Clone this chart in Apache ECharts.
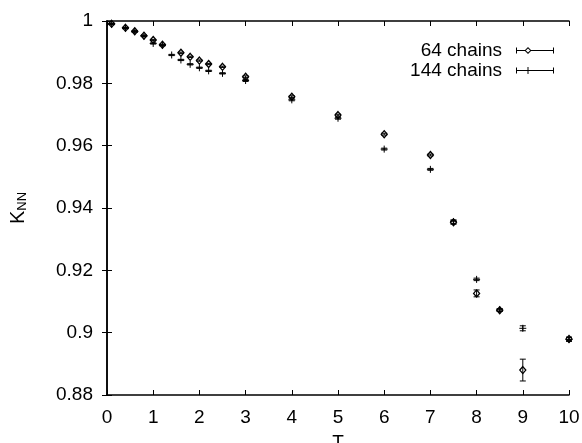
<!DOCTYPE html>
<html>
<head>
<meta charset="utf-8">
<script src="https://cdn.jsdelivr.net/npm/echarts@6/dist/echarts.min.js"></script>
<style>
  html, body { margin: 0; padding: 0; background: #fff; }
  #chart { width: 582px; height: 443px; }
</style>
</head>
<body>
<div id="chart"></div>
<script>
// 64 chains
const t64 = [0.1, 0.4, 0.6, 0.8, 1.0, 1.2, 1.6, 1.8, 2.0, 2.2, 2.5, 3, 4, 5, 6, 7, 7.5, 8, 8.5, 9, 10];
const k64 = [0.9991, 0.9978, 0.9967, 0.9953, 0.9939, 0.9924, 0.9898, 0.9885, 0.9873, 0.9862, 0.9853, 0.9821,
             0.9757, 0.9698, 0.9637, 0.9570, 0.9354, 0.9126, 0.9072, 0.8880, 0.8980];
const e64 = [0.0002, 0.0002, 0.0002, 0.0002, 0.0002, 0.0002, 0.0002, 0.0002, 0.0002, 0.0002, 0.0002, 0.0003,
             0.0003, 0.0003, 0.0003, 0.0003, 0.0006, 0.0011, 0.0004, 0.0035, 0.0006];
// 144 chains
const t144 = [0.1, 0.4, 0.6, 0.8, 1.0, 1.2, 1.4, 1.6, 1.8, 2.0, 2.2, 2.5, 3, 4, 5, 6, 7, 7.5, 8, 8.5, 9, 10];
const k144 = [0.9990, 0.9977, 0.9966, 0.9952, 0.9928, 0.9922, 0.9891, 0.9875, 0.9861, 0.9850, 0.9840, 0.9832,
              0.9809, 0.9747, 0.9688, 0.9589, 0.9524, 0.9356, 0.9171, 0.9073, 0.9014, 0.8978];
const e144 = [0.0002, 0.0002, 0.0002, 0.0002, 0.0002, 0.0002, 0.0002, 0.0002, 0.0002, 0.0002, 0.0002, 0.0002,
              0.0003, 0.0003, 0.0003, 0.0003, 0.0003, 0.0006, 0.0004, 0.0004, 0.0008, 0.0006];

const xTicks = [0, 10, 1];      // min, max, step
const yTicks = [0.88, 1, 0.02];

const FONT = 'Liberation Sans';

function zip(t, k, e) {
  return t.map((v, i) => [v, k[i], e[i]]);
}

// draws one point with its error bar; kind is 'diamond' or 'plus'
function pointRender(kind) {
  return function (params, api) {
    const x = api.value(0), y = api.value(1), e = api.value(2);
    const c = api.coord([x, y]);
    const hi = api.coord([x, y + e])[1];
    const lo = api.coord([x, y - e])[1];
    const ln = { stroke: '#000', lineWidth: 1 };
    const kids = [
      { type: 'line', shape: { x1: c[0], y1: hi, x2: c[0], y2: lo }, style: ln },
      { type: 'line', shape: { x1: c[0] - 3, y1: hi, x2: c[0] + 3, y2: hi }, style: ln },
      { type: 'line', shape: { x1: c[0] - 3, y1: lo, x2: c[0] + 3, y2: lo }, style: ln }
    ];
    if (kind === 'diamond') {
      kids.push({
        type: 'polygon',
        shape: { points: [[c[0], c[1] - 3.5], [c[0] + 3, c[1]], [c[0], c[1] + 3.5], [c[0] - 3, c[1]]] },
        style: { fill: null, stroke: '#000', lineWidth: 1.3 }
      });
    } else {
      kids.push({ type: 'line', shape: { x1: c[0] - 3.5, y1: c[1], x2: c[0] + 3.5, y2: c[1] }, style: ln });
      kids.push({ type: 'line', shape: { x1: c[0], y1: c[1] - 3.5, x2: c[0], y2: c[1] + 3.5 }, style: ln });
    }
    return { type: 'group', children: kids };
  };
}

const icon64 = 'path://M0,1h1v6H0z M37,1h1v6h-1z M1,3.5h9v1H1z M14,3.5h23v1H14z M12,0.5L15.5,4L12,7.5L8.5,4z M12,2L9.9,4L12,6L14.1,4z';
const icon144 = 'path://M0,1h1v6H0z M37,1h1v6h-1z M1,3.5h36v1H1z M11.5,0.5h1v7h-1z';

const chart = echarts.init(document.getElementById('chart'));

const mirrorX = {
  type: 'value', min: xTicks[0], max: xTicks[1], interval: xTicks[2],
  axisLine: { show: true, lineStyle: { color: '#000', width: 1.5 } },
  axisTick: { show: true, inside: true, length: 5, lineStyle: { color: '#000' } },
  splitLine: { show: false }
};
const mirrorY = {
  type: 'value', min: yTicks[0], max: yTicks[1], interval: yTicks[2],
  axisLine: { show: true, lineStyle: { color: '#000', width: 1.5 } },
  axisTick: { show: true, inside: true, length: 5, lineStyle: { color: '#000' } },
  splitLine: { show: false }
};

chart.setOption({
  animation: false,
  backgroundColor: '#fff',
  textStyle: { fontFamily: FONT, color: '#000' },
  grid: { left: 107, right: 13, top: 21, bottom: 48, containLabel: false, outerBoundsMode: 'none' },
  legend: {
    data: [
      { name: '64 chains', icon: icon64 },
      { name: '144 chains', icon: icon144 }
    ],
    orient: 'vertical',
    align: 'right',
    right: 23,
    top: 36,
    itemWidth: 38,
    itemHeight: 8,
    itemGap: 1,
    textStyle: { fontFamily: FONT, fontSize: 19, color: '#000', padding: [0, 9, 0, 0] }
  },
  xAxis: [
    Object.assign({}, mirrorX, {
      position: 'bottom',
      name: 'T',
      nameLocation: 'middle',
      nameGap: 38,
      nameTextStyle: { fontFamily: FONT, fontSize: 19, color: '#000' },
      axisLabel: { fontFamily: FONT, fontSize: 19, color: '#000', margin: 13 }
    }),
    Object.assign({}, mirrorX, { position: 'top', axisLabel: { show: false } })
  ],
  yAxis: [
    Object.assign({}, mirrorY, {
      position: 'left',
      name: '{k|K}{s|NN}',
      nameLocation: 'middle',
      nameRotate: 90,
      nameGap: 78,
      nameTextStyle: {
        rich: {
          k: { fontFamily: FONT, fontSize: 20, color: '#000' },
          s: { fontFamily: FONT, fontSize: 13, color: '#000', padding: [9, 0, 0, 0] }
        }
      },
      axisLabel: { fontFamily: FONT, fontSize: 19, color: '#000', margin: 14 }
    }),
    Object.assign({}, mirrorY, { position: 'right', axisLabel: { show: false } })
  ],
  series: [
    {
      name: '64 chains',
      type: 'custom',
      itemStyle: { color: '#000' },
      renderItem: pointRender('diamond'),
      encode: { x: 0, y: 1 },
      data: zip(t64, k64, e64)
    },
    {
      name: '144 chains',
      type: 'custom',
      itemStyle: { color: '#000' },
      renderItem: pointRender('plus'),
      encode: { x: 0, y: 1 },
      data: zip(t144, k144, e144)
    }
  ]
});
</script>
</body>
</html>
